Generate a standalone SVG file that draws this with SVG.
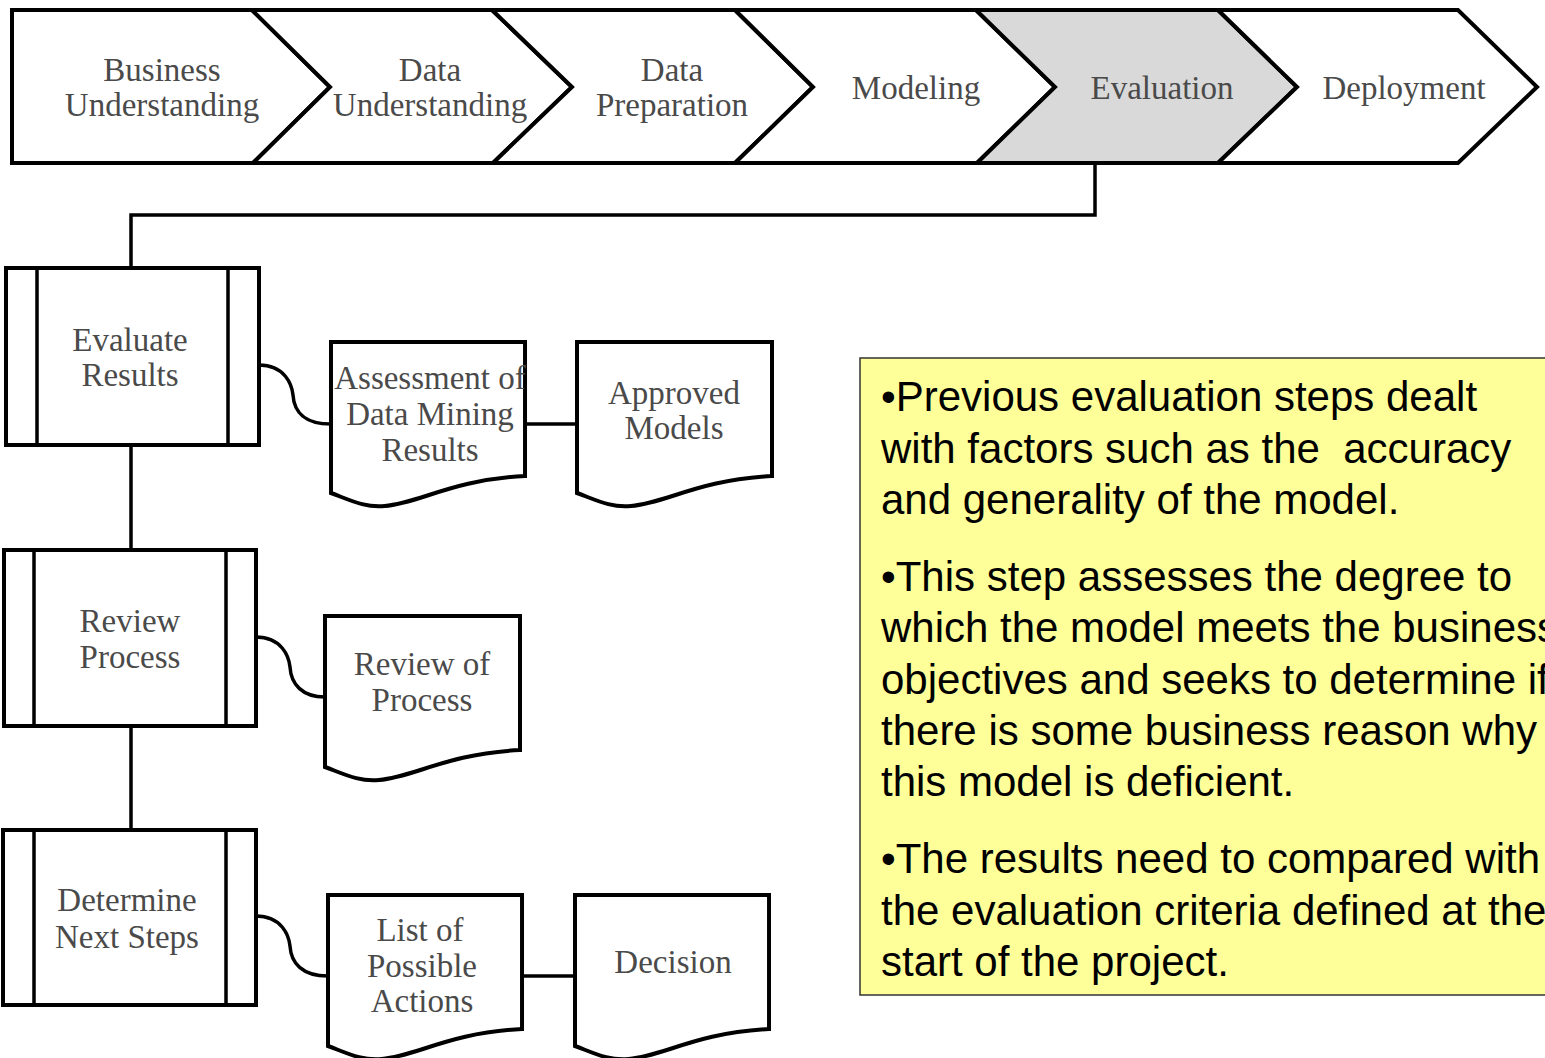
<svg xmlns="http://www.w3.org/2000/svg" xmlns:xlink="http://www.w3.org/1999/xlink" width="1545" height="1058" viewBox="0 0 1545 1058">
<style>
.shape{fill:#fff;stroke:#000;stroke-width:4;stroke-linejoin:miter}
.gray{fill:#d9d9d9}
.lbl{font-family:"Liberation Serif","Times New Roman",serif;font-size:33px;fill:#4a4a4a;text-anchor:middle}
.conn{fill:none;stroke:#000;stroke-width:3.5}
.note{font-family:"Liberation Sans",Arial,sans-serif;font-size:42px;fill:#000}
</style>
<defs>
<path id="doc" d="M0,0 H195 V134 C120,138 90,161 54,164 C34,166 19,158 0,151 Z"/>
</defs>
<rect width="1545" height="1058" fill="#fff"/>

<g id="connectors">
<path class="conn" d="M1095,163 V215 H131 V268"/>
<path class="conn" d="M131,445 V550"/>
<path class="conn" d="M131,726 V830"/>
<path class="conn" d="M259,365 C285,365 292,385 293,395 C294,412 305,424 331,424"/>
<path class="conn" d="M525,424 H577"/>
<path class="conn" d="M256,637 C282,637 289,657 290,667 C291,684 302,697 325,697"/>
<path class="conn" d="M256,916 C282,916 289,936 290,946 C291,963 302,976 328,976"/>
<path class="conn" d="M522,976 H575"/>
</g>

<g id="phase-business">
<polygon class="shape" points="12,10 252,10 330,87 253,163 12,163"/>
<text class="lbl" x="162" y="81">Business</text>
<text class="lbl" x="162" y="116">Understanding</text>
</g>
<g id="phase-data-understanding">
<polygon class="shape" points="252,10 492,10 572,87 493,163 253,163 330,87"/>
<text class="lbl" x="430" y="81">Data</text>
<text class="lbl" x="430" y="116">Understanding</text>
</g>
<g id="phase-data-preparation">
<polygon class="shape" points="492,10 735,10 813,87 735,163 493,163 572,87"/>
<text class="lbl" x="672" y="81">Data</text>
<text class="lbl" x="672" y="116">Preparation</text>
</g>
<g id="phase-modeling">
<polygon class="shape" points="735,10 976,10 1055,87 977,163 735,163 813,87"/>
<text class="lbl" x="916" y="99">Modeling</text>
</g>
<g id="phase-evaluation">
<polygon class="shape gray" points="976,10 1218,10 1297,87 1218,163 977,163 1055,87"/>
<text class="lbl" x="1162" y="99">Evaluation</text>
</g>
<g id="phase-deployment">
<polygon class="shape" points="1218,10 1458,10 1537,87 1458,163 1218,163 1297,87"/>
<text class="lbl" x="1404" y="99">Deployment</text>
</g>

<g id="evaluate-results">
<rect class="shape" x="6" y="268" width="253" height="177"/>
<path class="conn" d="M37,268 V445 M228,268 V445"/>
<text class="lbl" x="130" y="351">Evaluate</text>
<text class="lbl" x="130" y="386">Results</text>
</g>
<g id="review-process">
<rect class="shape" x="4" y="550" width="252" height="176"/>
<path class="conn" d="M34,550 V726 M226,550 V726"/>
<text class="lbl" x="130" y="632">Review</text>
<text class="lbl" x="130" y="668">Process</text>
</g>
<g id="determine-next-steps">
<rect class="shape" x="3" y="830" width="253" height="175"/>
<path class="conn" d="M34,830 V1005 M226,830 V1005"/>
<text class="lbl" x="127" y="911">Determine</text>
<text class="lbl" x="127" y="948">Next Steps</text>
</g>

<g id="assessment">
<use xlink:href="#doc" href="#doc" class="shape" transform="translate(331,342) scale(0.995,1)"/>
<text class="lbl" x="430" y="389">Assessment of</text>
<text class="lbl" x="430" y="425">Data Mining</text>
<text class="lbl" x="430" y="461">Results</text>
</g>
<g id="approved-models">
<use xlink:href="#doc" href="#doc" class="shape" transform="translate(577,342)"/>
<text class="lbl" x="674" y="404">Approved</text>
<text class="lbl" x="674" y="439">Models</text>
</g>
<g id="review-of-process">
<use xlink:href="#doc" href="#doc" class="shape" transform="translate(325,616)"/>
<text class="lbl" x="422" y="675">Review of</text>
<text class="lbl" x="422" y="711">Process</text>
</g>
<g id="list-of-actions">
<use xlink:href="#doc" href="#doc" class="shape" transform="translate(328,895) scale(0.995,1)"/>
<text class="lbl" x="420" y="941">List of</text>
<text class="lbl" x="422" y="977">Possible</text>
<text class="lbl" x="422" y="1012">Actions</text>
</g>
<g id="decision">
<use xlink:href="#doc" href="#doc" class="shape" transform="translate(575,895) scale(0.995,1)"/>
<text class="lbl" x="673" y="973">Decision</text>
</g>

<g id="note">
<rect x="860" y="358" width="740" height="637" fill="#ffff99" stroke="#333" stroke-width="1.5"/>
<text class="note" x="881" y="411" xml:space="preserve">•Previous evaluation steps dealt</text>
<text class="note" x="881" y="463" xml:space="preserve">with factors such as the  accuracy</text>
<text class="note" x="881" y="514">and generality of the model.</text>
<text class="note" x="881" y="591">•This step assesses the degree to</text>
<text class="note" x="881" y="642">which the model meets the business</text>
<text class="note" x="881" y="694">objectives and seeks to determine if</text>
<text class="note" x="881" y="745">there is some business reason why</text>
<text class="note" x="881" y="796">this model is deficient.</text>
<text class="note" x="881" y="873">•The results need to compared with</text>
<text class="note" x="881" y="925">the evaluation criteria defined at the</text>
<text class="note" x="881" y="976">start of the project.</text>
</g>
</svg>
